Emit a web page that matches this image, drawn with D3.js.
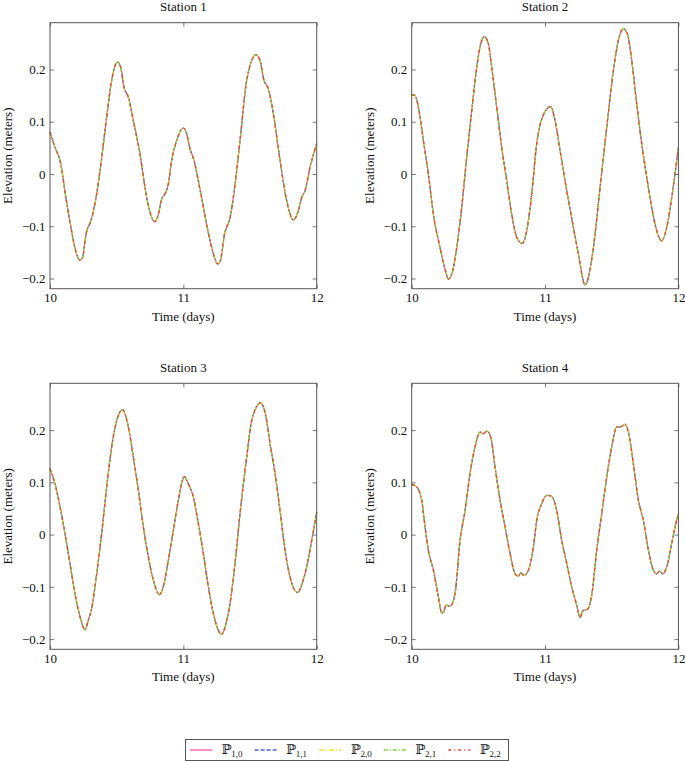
<!DOCTYPE html>
<html>
<head>
<meta charset="utf-8">
<script src="https://cdn.jsdelivr.net/npm/d3@7"></script>
<style>
  body { margin: 0; background: #fff; }
  svg text { font-family: "Liberation Serif", "DejaVu Serif", serif !important; fill: #111; }
</style>
</head>
<body>
<div id="chart"></div>
<script>
// values, t in days, elevation in meters
const station1Time = [10.0, 10.0375, 10.075, 10.125, 10.1625, 10.1875, 10.225, 10.245, 10.2625, 10.275, 10.3, 10.325, 10.35, 10.375, 10.425, 10.4625, 10.505, 10.53, 10.555, 10.5875, 10.625, 10.675, 10.725, 10.7625, 10.7875, 10.8125, 10.8375, 10.8625, 10.8875, 10.9125, 10.95, 11.0, 11.025, 11.05, 11.08, 11.125, 11.155, 11.187, 11.22, 11.2575, 11.28, 11.295, 11.307, 11.325, 11.345, 11.36, 11.375, 11.425, 11.475, 11.545, 11.575, 11.605, 11.6375, 11.675, 11.725, 11.775, 11.825, 11.8625, 11.8875, 11.9125, 11.95, 12.0];
const station1Elev = [0.080, 0.051, 0.026, -0.055, -0.110, -0.142, -0.165, -0.160, -0.128, -0.110, -0.094, -0.072, -0.038, 0.006, 0.109, 0.179, 0.214, 0.204, 0.166, 0.147, 0.102, 0.038, -0.045, -0.083, -0.091, -0.077, -0.048, -0.038, -0.019, 0.026, 0.064, 0.088, 0.077, 0.048, 0.026, -0.030, -0.070, -0.112, -0.148, -0.172, -0.164, -0.140, -0.117, -0.102, -0.089, -0.070, -0.045, 0.064, 0.179, 0.228, 0.217, 0.179, 0.163, 0.115, 0.026, -0.051, -0.088, -0.070, -0.045, -0.032, 0.013, 0.058];

const station2Time = [10.0, 10.025, 10.05, 10.0875, 10.125, 10.1625, 10.2125, 10.25, 10.275, 10.3, 10.3375, 10.375, 10.4125, 10.45, 10.4875, 10.5175, 10.545, 10.575, 10.6, 10.6375, 10.675, 10.7125, 10.75, 10.7875, 10.83, 10.8625, 10.9, 10.9375, 10.975, 11.0425, 11.075, 11.1125, 11.1625, 11.2125, 11.25, 11.3, 11.325, 11.3625, 11.4125, 11.4625, 11.5125, 11.55, 11.5875, 11.6175, 11.65, 11.6875, 11.725, 11.7625, 11.8, 11.8375, 11.875, 11.9125, 11.95, 12.0];
const station2Elev = [0.152, 0.150, 0.128, 0.064, 0.000, -0.077, -0.141, -0.182, -0.201, -0.192, -0.141, -0.064, 0.032, 0.121, 0.204, 0.249, 0.263, 0.249, 0.204, 0.128, 0.051, -0.013, -0.077, -0.121, -0.133, -0.109, -0.038, 0.058, 0.105, 0.129, 0.102, 0.045, -0.032, -0.102, -0.153, -0.212, -0.198, -0.141, -0.026, 0.089, 0.198, 0.256, 0.278, 0.268, 0.217, 0.134, 0.058, -0.006, -0.064, -0.109, -0.128, -0.102, -0.045, 0.051];

const station3Time = [10.0, 10.0375, 10.075, 10.1125, 10.15, 10.1875, 10.225, 10.2625, 10.2875, 10.3125, 10.35, 10.3875, 10.425, 10.4625, 10.5, 10.545, 10.57, 10.595, 10.625, 10.6625, 10.7, 10.7375, 10.775, 10.82, 10.855, 10.8875, 10.925, 10.9625, 11.0075, 11.0375, 11.075, 11.1125, 11.15, 11.1875, 11.225, 11.2875, 11.32, 11.35, 11.3875, 11.425, 11.475, 11.5125, 11.58, 11.62, 11.65, 11.6875, 11.725, 11.7625, 11.8, 11.8575, 11.895, 11.925, 11.9625, 12.0];
const station3Elev = [0.126, 0.097, 0.053, 0.002, -0.055, -0.113, -0.157, -0.182, -0.164, -0.141, -0.075, 0.002, 0.091, 0.168, 0.218, 0.239, 0.225, 0.196, 0.148, 0.085, 0.015, -0.043, -0.087, -0.115, -0.094, -0.049, 0.008, 0.066, 0.111, 0.097, 0.072, 0.021, -0.036, -0.100, -0.151, -0.191, -0.170, -0.132, -0.055, 0.040, 0.148, 0.218, 0.252, 0.225, 0.174, 0.117, 0.046, -0.030, -0.081, -0.111, -0.090, -0.062, -0.011, 0.043];

const station4Time = [10.0, 10.0375, 10.075, 10.1, 10.125, 10.1625, 10.2, 10.225, 10.2425, 10.2575, 10.2875, 10.325, 10.3625, 10.4, 10.4375, 10.475, 10.5125, 10.5375, 10.5625, 10.5925, 10.625, 10.6625, 10.7, 10.7375, 10.775, 10.8, 10.8175, 10.8425, 10.875, 10.9125, 10.9375, 10.975, 11.0125, 11.05, 11.0875, 11.125, 11.1625, 11.2, 11.2375, 11.2625, 11.2825, 11.3175, 11.35, 11.3875, 11.425, 11.4625, 11.5, 11.5375, 11.5675, 11.6, 11.625, 11.6625, 11.7, 11.7375, 11.775, 11.8125, 11.8375, 11.8575, 11.8825, 11.9125, 11.95, 11.975, 12.0];
const station4Elev = [0.096, 0.091, 0.066, 0.015, -0.030, -0.068, -0.119, -0.150, -0.146, -0.135, -0.137, -0.113, -0.011, 0.046, 0.117, 0.168, 0.196, 0.193, 0.198, 0.187, 0.129, 0.066, 0.015, -0.036, -0.075, -0.080, -0.073, -0.078, -0.068, -0.024, 0.027, 0.059, 0.075, 0.073, 0.046, -0.011, -0.055, -0.100, -0.135, -0.159, -0.146, -0.143, -0.116, -0.030, 0.040, 0.110, 0.168, 0.206, 0.206, 0.211, 0.196, 0.135, 0.066, 0.027, -0.030, -0.068, -0.075, -0.070, -0.075, -0.062, -0.017, 0.015, 0.040];

const stationNames = ["Station 1", "Station 2", "Station 3", "Station 4"];
const seriesNames = [["1", "0"], ["1", "1"], ["2", "0"], ["2", "1"], ["2", "2"]];
const xTicks = [10, 11, 12];
const yTicks = [-0.2, -0.1, 0, 0.1, 0.2];

const stations = [
    d3.zip(station1Time, station1Elev),
    d3.zip(station2Time, station2Elev),
    d3.zip(station3Time, station3Elev),
    d3.zip(station4Time, station4Elev)
];

const seriesStyle = [
    { color: "#ff4fa8", dash: null },
    { color: "#4a66dd", dash: "4,2" },
    { color: "#f2e21c", dash: "5,2,1,2" },
    { color: "#7bd93c", dash: "4,2,1,2" },
    { color: "#f23b2e", dash: "3,3,1,3" }
];

const W = 685, H = 761;
const panels = [
    { left: 50, top: 22.7 }, { left: 411.7, top: 22.7 },
    { left: 50, top: 383.3 }, { left: 411.7, top: 383.3 }
];
const pw = 266.7, ph = 266;

const svg = d3.select("#chart").append("svg")
    .attr("width", W)
    .attr("height", H)
    .attr("font-family", "Liberation Serif");

stations.forEach((data, k) => {
    const p = panels[k];
    const g = svg.append("g").attr("transform", `translate(${p.left},${p.top})`);

    const x = d3.scaleLinear().domain([10, 12]).range([0, pw]);
    const y = d3.scaleLinear().domain([-0.2195, 0.2895]).range([ph, 0]);

    const line = d3.line().x(d => x(d[0])).y(d => y(d[1])).curve(d3.curveMonotoneX);

    // five discretisations, drawn on top of each other
    seriesStyle.forEach(s => {
        g.append("path")
            .datum(data)
            .attr("d", line)
            .attr("fill", "none")
            .attr("stroke", s.color)
            .attr("stroke-width", 1.2)
            .attr("stroke-dasharray", s.dash);
    });

    // inside ticks on all sides, like pgfplots
    const tickStyle = sel => sel.call(a => a.select(".domain").remove())
        .call(a => a.selectAll(".tick line").attr("stroke", "#777"));

    g.append("g").attr("transform", `translate(0,${ph})`)
        .call(d3.axisBottom(x).tickValues(xTicks).tickSizeInner(-4).tickSizeOuter(0).tickPadding(4.5).tickFormat(d3.format("d")))
        .call(tickStyle)
        .call(a => a.selectAll("text").attr("font-size", 13).attr("fill", "#111"));
    g.append("g")
        .call(d3.axisTop(x).tickValues(xTicks).tickSizeInner(-4).tickSizeOuter(0).tickFormat(""))
        .call(tickStyle);
    g.append("g")
        .call(d3.axisLeft(y).tickValues(yTicks).tickSizeInner(-4).tickSizeOuter(0).tickPadding(4.5)
            .tickFormat(d => d === 0 ? "0" : d3.format(".1f")(d).replace("-", "\u2212")))
        .call(tickStyle)
        .call(a => a.selectAll("text").attr("font-size", 13).attr("fill", "#111"));
    g.append("g").attr("transform", `translate(${pw},0)`)
        .call(d3.axisRight(y).tickValues(yTicks).tickSizeInner(-4).tickSizeOuter(0).tickFormat(""))
        .call(tickStyle);

    g.append("rect")
        .attr("width", pw).attr("height", ph)
        .attr("fill", "none")
        .attr("stroke", "#555")
        .attr("stroke-width", 1);

    g.append("text")
        .attr("x", pw / 2).attr("y", -11.5)
        .attr("text-anchor", "middle")
        .attr("font-size", 13)
        .text(stationNames[k]);

    g.append("text")
        .attr("x", pw / 2).attr("y", ph + 32)
        .attr("text-anchor", "middle")
        .attr("font-size", 13)
        .text("Time (days)");

    g.append("text")
        .attr("transform", `translate(-38,${ph / 2}) rotate(-90)`)
        .attr("text-anchor", "middle")
        .attr("font-size", 13)
        .text("Elevation (meters)");
});

// legend
const legend = svg.append("g");
legend.append("rect")
    .attr("x", 185.5).attr("y", 739.5)
    .attr("width", 323).attr("height", 21)
    .attr("fill", "#fff")
    .attr("stroke", "#555");

const legendX = d3.scaleLinear().domain([0, 4]).range([190, 448.3]);
seriesStyle.forEach((s, i) => {
    const x0 = legendX(i);
    legend.append("path")
        .attr("d", `M${x0},750H${x0 + 22}`)
        .attr("fill", "none")
        .attr("stroke", s.color)
        .attr("stroke-width", 1.3)
        .attr("stroke-dasharray", s.dash);
    const t = legend.append("text")
        .attr("x", x0 + 31.5).attr("y", 754)
        .attr("font-size", 13);
    t.append("tspan").text("\u2119");
    t.append("tspan").attr("font-size", 9).attr("dy", 3)
        .text(seriesNames[i].join(","));
});
</script>
</body>
</html>
